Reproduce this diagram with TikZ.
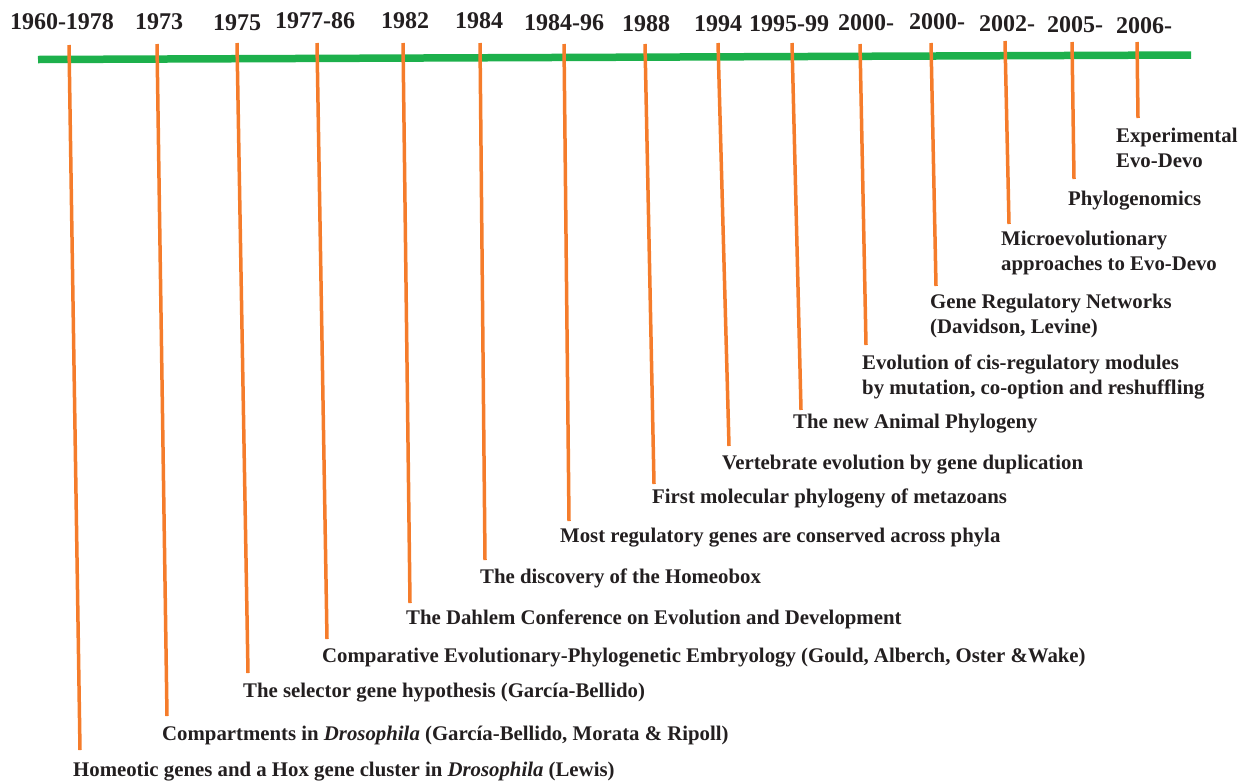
\documentclass[tikz,border=0pt]{standalone}
\usepackage{fontspec}
\setmainfont{Liberation Serif}
\usepackage{xcolor}
\usepackage{tikz}
\usetikzlibrary{positioning,calc}

\definecolor{axisgreen}{RGB}{29,176,76}
\definecolor{tickorange}{RGB}{245,124,43}
\definecolor{inkgray}{RGB}{35,31,32}

\tikzset{
  yearlbl/.style={anchor=base,inner sep=0pt,text=inkgray,
    font=\fontsize{24}{28}\selectfont\bfseries},
  eventlbl/.style={anchor=base west,inner sep=0pt,text=inkgray,align=left,
    font=\fontsize{20.8}{24.5}\selectfont\bfseries},
  timeaxis/.style={axisgreen,line width=7.5pt},
  stem/.style={tickorange,line width=3.5pt}
}

\begin{document}
\begin{tikzpicture}[x=1pt,y=-1pt]
\useasboundingbox (0,0) rectangle (1246,780);
% the years
\node[yearlbl] (y1) at (62,29) {1960-1978};
\node[yearlbl] (y2) at (159,29) {1973};
\node[yearlbl] (y3) at (237,30) {1975};
\node[yearlbl] (y4) at (315,28) {1977-86};
\node[yearlbl] (y5) at (405,28) {1982};
\node[yearlbl] (y6) at (479,28) {1984};
\node[yearlbl] (y7) at (564,30) {1984-96};
\node[yearlbl] (y8) at (646,31) {1988};
\node[yearlbl] (y9) at (718,31) {1994};
\node[yearlbl] (y10) at (789,31) {1995-99};
\node[yearlbl] (y11) at (866,30) {2000-};
\node[yearlbl] (y12) at (937,29) {2000-};
\node[yearlbl] (y13) at (1007,31) {2002-};
\node[yearlbl] (y14) at (1075,32) {2005-};
\node[yearlbl] (y15) at (1144,33) {2006-};
% the events (two-line ones sit on their last line)
\node[eventlbl] (e1) at (73,776) {Homeotic genes and a Hox gene cluster in \textit{Drosophila} (Lewis)};
\node[eventlbl] (e2) at (162,740) {Compartments in \textit{Drosophila} (García-Bellido, Morata \& Ripoll)};
\node[eventlbl] (e3) at (243,697) {The selector gene hypothesis (García-Bellido)};
\node[eventlbl] (e4) at (322,662) {Comparative Evolutionary-Phylogenetic Embryology (Gould, Alberch, Oster \&Wake)};
\node[eventlbl] (e5) at (406,624) {The Dahlem Conference on Evolution and Development};
\node[eventlbl] (e6) at (480,583) {The discovery of the Homeobox};
\node[eventlbl] (e7) at (560,542) {Most regulatory genes are conserved across phyla};
\node[eventlbl] (e8) at (652,503) {First molecular phylogeny of metazoans};
\node[eventlbl] (e9) at (722,469) {Vertebrate evolution by gene duplication};
\node[eventlbl] (e10) at (793,428) {The new Animal Phylogeny};
\node[eventlbl] (e11) at (862,394) {Evolution of cis-regulatory modules\\by mutation, co-option and reshuffling};
\node[eventlbl] (e12) at (930,333) {Gene Regulatory Networks\\(Davidson, Levine)};
\node[eventlbl] (e13) at (1001,270) {Microevolutionary\\approaches to Evo-Devo};
\node[eventlbl] (e14) at (1068,205) {Phylogenomics};
\node[eventlbl] (e15) at (1116,167) {Experimental\\Evo-Devo};
% axis
\coordinate (axL) at (38,59.5);
\coordinate (axR) at (1191,55);
\draw[timeaxis] (axL) -- (axR);
% stems: top and foot of each
\coordinate (t1) at (69,45);    \coordinate (b1) at (80,750);
\coordinate (t2) at (157,44);   \coordinate (b2) at (167,716);
\coordinate (t3) at (237,43);   \coordinate (b3) at (248,673);
\coordinate (t4) at (317,43);   \coordinate (b4) at (327,639);
\coordinate (t5) at (403,43);   \coordinate (b5) at (410,603);
\coordinate (t6) at (480,43);   \coordinate (b6) at (485,560);
\coordinate (t7) at (564,44);   \coordinate (b7) at (569,521);
\coordinate (t8) at (645,44);   \coordinate (b8) at (654,484);
\coordinate (t9) at (718,43);   \coordinate (b9) at (729,446);
\coordinate (t10) at (792,43);  \coordinate (b10) at (801,410);
\coordinate (t11) at (860,44);  \coordinate (b11) at (866,345);
\coordinate (t12) at (931,43);  \coordinate (b12) at (936,286);
\coordinate (t13) at (1005,41); \coordinate (b13) at (1009,224);
\coordinate (t14) at (1072,42); \coordinate (b14) at (1074,179);
\coordinate (t15) at (1137,42); \coordinate (b15) at (1138,118);
\draw[stem] (t1) -- (b1);
\draw[stem] (t2) -- (b2);
\draw[stem] (t3) -- (b3);
\draw[stem] (t4) -- (b4);
\draw[stem] (t5) -- (b5);
\draw[stem] (t6) -- (b6);
\draw[stem] (t7) -- (b7);
\draw[stem] (t8) -- (b8);
\draw[stem] (t9) -- (b9);
\draw[stem] (t10) -- (b10);
\draw[stem] (t11) -- (b11);
\draw[stem] (t12) -- (b12);
\draw[stem] (t13) -- (b13);
\draw[stem] (t14) -- (b14);
\draw[stem] (t15) -- (b15);
\end{tikzpicture}
\end{document}
